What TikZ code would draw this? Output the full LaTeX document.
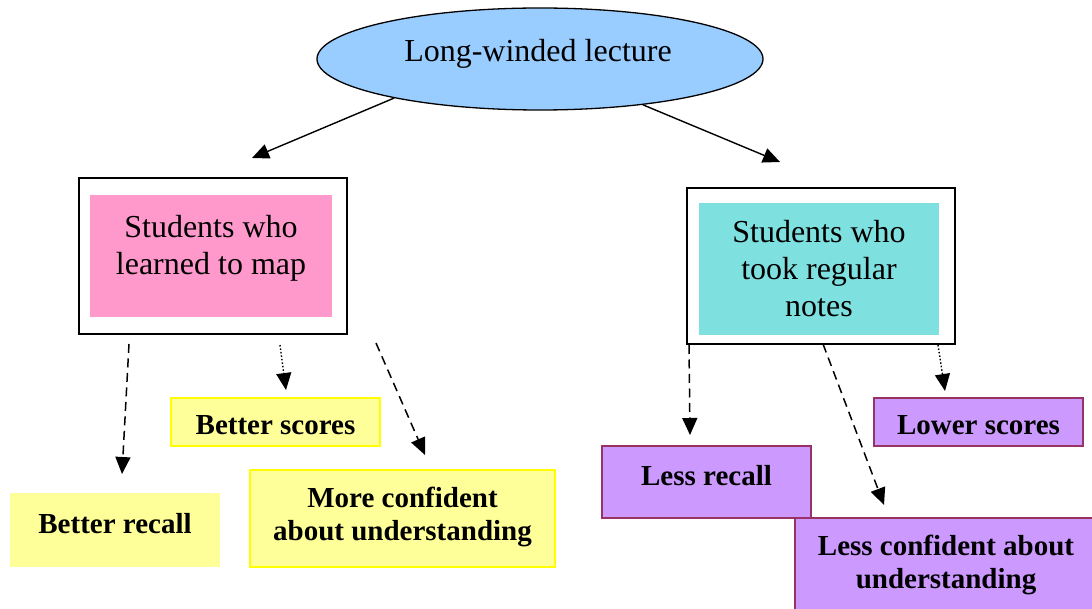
\documentclass[tikz,border=0pt]{standalone}
\usepackage{fontspec}
\setmainfont{Liberation Serif}
\usetikzlibrary{shapes.geometric,arrows.meta}
\definecolor{lecblue}{HTML}{99CCFF}
\definecolor{mappink}{HTML}{FF99CC}
\definecolor{notecyan}{HTML}{7FE0E0}
\definecolor{resyellow}{HTML}{FFFF99}
\definecolor{edgeyellow}{HTML}{FFFF00}
\definecolor{respurple}{HTML}{CC99FF}
\definecolor{edgepurple}{HTML}{993366}
\tikzset{
  regtext/.style={font=\fontsize{32}{37}\selectfont, align=center, text=black},
  boldtext/.style={font=\fontsize{29}{33.5}\selectfont\bfseries, align=center, text=black},
  outerbox/.style={draw=black, line width=1.6pt, fill=white, minimum width=268pt, minimum height=156pt, inner sep=0pt},
  yellowbox/.style={fill=resyellow, draw=edgeyellow, line width=1.4pt, inner sep=0pt},
  purplebox/.style={fill=respurple, draw=edgepurple, line width=1.4pt, inner sep=0pt},
  solidarrow/.style={line width=1.4pt, -{Triangle[length=17pt,width=15pt]}},
  dasharrow/.style={line width=1.5pt, dash pattern=on 9pt off 5.5pt, -{Triangle[length=17pt,width=15pt]}},
  dotarrow/.style={line width=1.4pt, dash pattern=on 1.5pt off 2pt, -{Triangle[length=17pt,width=15pt]}}
}
\begin{document}
\begin{tikzpicture}[x=1pt,y=-1pt]
\useasboundingbox (0,0) rectangle (1092,609);
% top ellipse
\node[ellipse, draw=black, line width=1.3pt, fill=lecblue, minimum width=446pt, minimum height=102pt, inner sep=0pt] (lec) at (540,59) {};
\node[regtext, anchor=base] (lectxt) at (538,62) {Long-winded lecture};
% group boxes
\node[outerbox] (mapout) at (213,256) {};
\node[fill=mappink, minimum width=242pt, minimum height=122pt, inner sep=0pt] (mapin) at (211,256) {};
\node[regtext] (maptxt) at (211,248) {Students who\\learned to map};
\node[outerbox] (noteout) at (821,266) {};
\node[fill=notecyan, minimum width=240pt, minimum height=132pt, inner sep=0pt] (notein) at (819,269) {};
\node[regtext] (notetxt) at (819,269) {Students who\\took regular\\notes};
% result boxes
\node[yellowbox, minimum width=209pt, minimum height=48pt] (bscores) at (275.5,422) {};
\node[boldtext] (bscorestxt) at (275.5,425) {Better scores};
\node[fill=resyellow, minimum width=210pt, minimum height=74pt, inner sep=0pt] (brecall) at (115,530) {};
\node[boldtext] (brecalltxt) at (115,524) {Better recall};
\node[yellowbox, minimum width=305pt, minimum height=97pt] (mconf) at (402.5,518.5) {};
\node[boldtext] (mconftxt) at (402.5,517) {More confident\\about understanding};
\node[purplebox, minimum width=209pt, minimum height=48pt] (lscores) at (978.5,422) {};
\node[boldtext] (lscorestxt) at (978.5,425) {Lower scores};
\node[purplebox, minimum width=209pt, minimum height=72pt] (lrecall) at (706.5,482) {};
\node[boldtext] (lrecalltxt) at (706.5,476) {Less recall};
\node[purplebox, minimum width=300pt, minimum height=96pt] (lconf) at (945,566) {};
\node[boldtext] (lconftxt) at (946,565) {Less confident about\\understanding};
% connector end points
\coordinate (t1) at (252,158);
\coordinate (t2) at (780,162);
\coordinate (s3) at (129,344); \coordinate (t3) at (122,474);
\coordinate (s4) at (280,345); \coordinate (t4) at (286,390);
\coordinate (s5) at (376,343); \coordinate (t5) at (425,455);
\coordinate (s6) at (689,345); \coordinate (t6) at (690,435);
\coordinate (s7) at (823,344); \coordinate (t7) at (884,505);
\coordinate (s8) at (938,345); \coordinate (t8) at (945,391);
% connectors
\draw[solidarrow] (lec.195.6) -- (t1);
\draw[solidarrow] (lec.336.7) -- (t2);
\draw[dasharrow] (s3) -- (t3);
\draw[dotarrow] (s4) -- (t4);
\draw[dasharrow] (s5) -- (t5);
\draw[dasharrow] (s6) -- (t6);
\draw[dasharrow] (s7) -- (t7);
\draw[dotarrow] (s8) -- (t8);
\end{tikzpicture}
\end{document}
